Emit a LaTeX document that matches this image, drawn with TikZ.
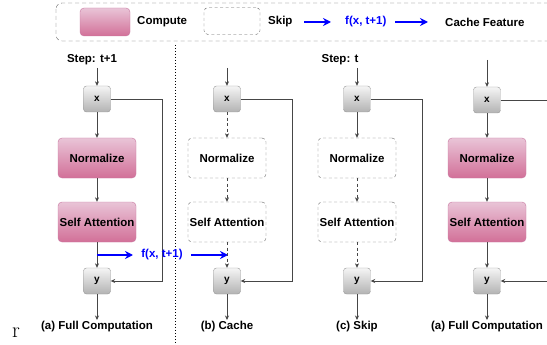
\documentclass[tikz,border=0pt]{standalone}
\usepackage{fontspec}
\setsansfont{Liberation Sans}
\usetikzlibrary{arrows.meta}
\definecolor{pinktop}{RGB}{233,196,215}
\definecolor{pinkbot}{RGB}{210,112,152}
\definecolor{pinkedge}{RGB}{200,120,160}
\definecolor{gateedge}{RGB}{150,150,150}
\definecolor{wireclr}{RGB}{70,70,70}
\begin{document}
\begin{tikzpicture}[x=1pt,y=-1pt,
    font=\sffamily\fontsize{11.5}{13}\selectfont\bfseries,
    compute/.style={draw=pinkedge, rounded corners=4pt, top color=pinktop, bottom color=pinkbot,
                    minimum width=78pt, minimum height=40pt, inner sep=0pt},
    skipbox/.style={draw=black!60, dash pattern=on 3pt off 2.5pt, rounded corners=4pt,
                    minimum width=78pt, minimum height=40pt, inner sep=0pt},
    gate/.style={draw=gateedge, rounded corners=3pt, top color=black!4, bottom color=black!30,
                 minimum width=27pt, minimum height=26pt, inner sep=0pt,
                 font=\sffamily\fontsize{10}{12}\selectfont\bfseries},
    wire/.style={draw=wireclr, line width=0.6pt},
    flow/.style={wire, -{Stealth[length=4.5pt,width=4pt]}},
    skipflow/.style={flow, dash pattern=on 3pt off 2.5pt},
    cachearrow/.style={draw=blue, line width=1.8pt, -{Stealth[length=8pt,width=8pt]}},
    caption/.style={inner sep=0pt}]
\useasboundingbox (0,0) rectangle (547,345);
\clip (0,0) rectangle (547,345);

% legend
\draw[black!65, dash pattern=on 4pt off 3pt, rounded corners=6pt] (56,3) rectangle (600,41);
\node[compute, minimum width=50pt, minimum height=28pt] (lgcompute) at (105,22) {};
\node[caption, anchor=west] (lgcomputetxt) at (137,22) {Compute};
\node[skipbox, minimum width=56pt, minimum height=27pt] (lgskip) at (232,21) {};
\node[caption, anchor=west] (lgskiptxt) at (268,22) {Skip};
\coordinate (lgarrowa) at (304,22);
\coordinate (lgtipa) at (331,22);
\node[caption, text=blue, anchor=west] (lgfx) at (345,22) {f(x, t+1)};
\coordinate (lgarrowb) at (395,22);
\coordinate (lgtipb) at (428,22);
\node[caption, anchor=west] (lgcache) at (445,22) {Cache Feature};
\draw[cachearrow, line width=1.5pt] (lgarrowa) -- (lgtipa);
\draw[cachearrow, line width=1.5pt] (lgarrowb) -- (lgtipb);

% step labels and divider
\node[caption] (stepa) at (92,60) {Step: t+1};
\node[caption] (stepc) at (340,60) {Step: t};
\coordinate (divtop) at (175,45);
\coordinate (divbot) at (175,345);
\draw[black, line width=0.8pt, dash pattern=on 0.8pt off 2.2pt] (divtop) -- (divbot);

% (a) full computation, step t+1
\coordinate (ina) at (97,68);
\node[gate] (xa) at (97,99) {x};
\node[compute] (norma) at (97,158) {Normalize};
\node[compute] (attna) at (97,222) {Self Attention};
\node[gate] (ya) at (97,281) {y};
\coordinate (outa) at (97,320);
\coordinate (resa) at (162,99);
\draw[flow] (ina) -- (xa);
\draw[flow] (xa) -- (norma);
\draw[flow] (norma) -- (attna);
\draw[flow] (attna) -- (ya);
\draw[flow] (ya) -- (outa);
\draw[flow] (xa.east) -- (resa) |- (ya.east);
\node[caption] (capa) at (97,327) {(a) Full Computation};

% cached feature handed to the next step
\coordinate (fxstart) at (97,255);
\coordinate (fxtip) at (133,255);
\coordinate (fxmid) at (191,255);
\coordinate (fxend) at (228,255);
\node[caption, text=blue] (fxa) at (162,255) {f(x, t+1)};
\draw[cachearrow] (fxstart) -- (fxtip);
\draw[cachearrow] (fxmid) -- (fxend);

% (b) cache
\coordinate (inb) at (227,68);
\node[gate] (xb) at (227,99) {x};
\node[skipbox] (normb) at (227,158) {Normalize};
\node[skipbox] (attnb) at (227,222) {Self Attention};
\node[gate] (yb) at (227,281) {y};
\coordinate (outb) at (227,320);
\coordinate (resb) at (292,99);
\draw[flow] (inb) -- (xb);
\draw[skipflow] (xb) -- (normb);
\draw[skipflow] (normb) -- (attnb);
\draw[skipflow] (attnb) -- (yb);
\draw[flow] (yb) -- (outb);
\draw[flow] (xb.east) -- (resb) |- (yb.east);
\node[caption] (capb) at (227,327) {(b) Cache};

% (c) skip, step t
\coordinate (inc) at (357,68);
\node[gate] (xc) at (357,99) {x};
\node[skipbox] (normc) at (357,158) {Normalize};
\node[skipbox] (attnc) at (357,222) {Self Attention};
\node[gate] (yc) at (357,281) {y};
\coordinate (outc) at (357,320);
\coordinate (resc) at (422,99);
\draw[flow] (inc) -- (xc);
\draw[flow] (xc) -- (normc);
\draw[skipflow] (normc) -- (attnc);
\draw[skipflow] (attnc) -- (yc);
\draw[flow] (yc) -- (outc);
\draw[flow] (xc.east) -- (resc) |- (yc.east);
\node[caption] (capc) at (357,327) {(c) Skip};

% (a) full computation again
\coordinate (ind) at (487,60);
\node[gate] (xd) at (487,100) {x};
\node[compute] (normd) at (487,158) {Normalize};
\node[compute] (attnd) at (487,222) {Self Attention};
\node[gate] (yd) at (487,281) {y};
\coordinate (outd) at (487,320);
\coordinate (resdtop) at (560,100);
\coordinate (resdbot) at (560,281);
\draw[flow] (ind) -- (xd);
\draw[flow] (xd) -- (normd);
\draw[flow] (normd) -- (attnd);
\draw[flow] (attnd) -- (yd);
\draw[flow] (yd) -- (outd);
\draw[wire] (xd.east) -- (resdtop);
\draw[flow] (resdbot) -- (yd.east);
\node[caption] (capd) at (487,327) {(a) Full Computation};

% stray mark
\node[font=\rmfamily\fontsize{22}{22}\selectfont, inner sep=0pt] (mark) at (16,333) {r};
\end{tikzpicture}
\end{document}
